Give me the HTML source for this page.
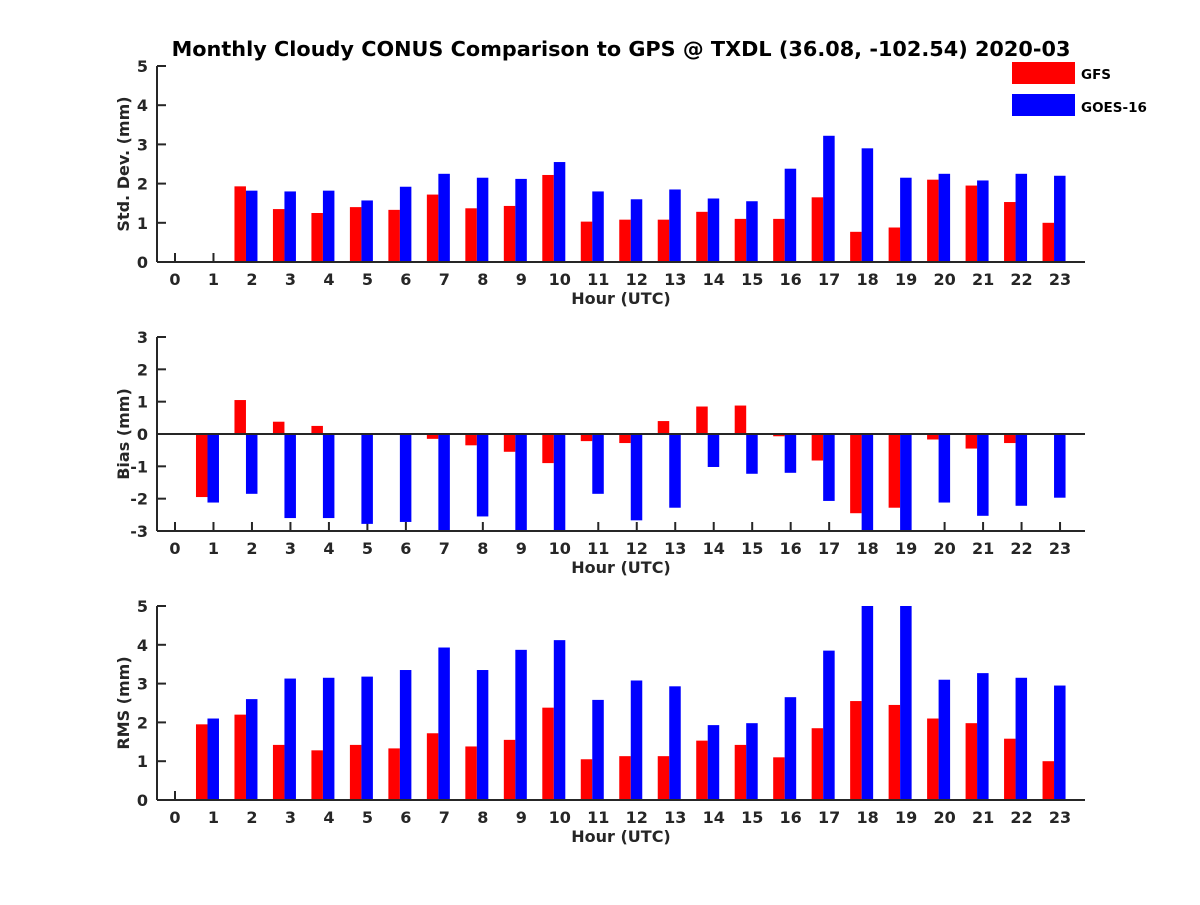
<!DOCTYPE html>
<html><head><meta charset="utf-8"><style>
body{margin:0;background:#fff;}
svg text{font-family:"DejaVu Sans","Liberation Sans",sans-serif;font-weight:bold;fill:#262626;}
</style></head><body>
<svg id="chart" width="1200" height="900" viewBox="0 0 1200 900" xmlns="http://www.w3.org/2000/svg">
<rect width="1200" height="900" fill="#fff"/>
<text x="621" y="56" text-anchor="middle" font-size="20.8" style="fill:#000">Monthly Cloudy CONUS Comparison to GPS @ TXDL (36.08, -102.54) 2020-03</text>
<g>
<rect x="1012" y="62" width="63" height="22" fill="#f00"/>
<text x="1081" y="79" font-size="13.5" style="fill:#000">GFS</text>
<rect x="1012" y="94" width="63" height="22" fill="#00f"/>
<text x="1081" y="112" font-size="13.5" style="fill:#000">GOES-16</text>
</g>
</svg>
<script>
const hours=[0,1,2,3,4,5,6,7,8,9,10,11,12,13,14,15,16,17,18,19,20,21,22,23];
const stdGfs=[null,null,1.93,1.35,1.25,1.4,1.33,1.72,1.37,1.43,2.22,1.03,1.08,1.08,1.28,1.1,1.1,1.65,0.77,0.88,2.1,1.95,1.53,1.0];
const stdGoes=[null,null,1.82,1.8,1.82,1.57,1.92,2.25,2.15,2.12,2.55,1.8,1.6,1.85,1.62,1.55,2.38,3.22,2.9,2.15,2.25,2.08,2.25,2.2];
const biasGfs=[null,-1.95,1.05,0.38,0.25,0.02,0.02,-0.15,-0.35,-0.55,-0.9,-0.22,-0.28,0.4,0.85,0.88,-0.07,-0.82,-2.45,-2.28,-0.17,-0.45,-0.28,-0.03];
const biasGoes=[null,-2.12,-1.85,-2.6,-2.6,-2.78,-2.72,-3.3,-2.55,-3.3,-3.3,-1.85,-2.67,-2.28,-1.02,-1.23,-1.2,-2.07,-3.4,-3.4,-2.12,-2.53,-2.22,-1.97];
const rmsGfs=[null,1.95,2.2,1.42,1.28,1.42,1.33,1.72,1.38,1.55,2.38,1.05,1.13,1.13,1.53,1.42,1.1,1.85,2.55,2.45,2.1,1.98,1.58,1.0];
const rmsGoes=[null,2.1,2.6,3.13,3.15,3.18,3.35,3.93,3.35,3.87,4.12,2.58,3.08,2.93,1.93,1.98,2.65,3.85,5.3,5.2,3.1,3.27,3.15,2.95];
const stdTicks=[0,1,2,3,4,5];
const biasTicks=[-3,-2,-1,0,1,2,3];
const rmsTicks=[0,1,2,3,4,5];

const NS="http://www.w3.org/2000/svg";
const svg=document.getElementById('chart');
function mk(tag,attrs,parent){const e=document.createElementNS(NS,tag);for(const k in attrs)e.setAttribute(k,attrs[k]);(parent||svg).appendChild(e);return e;}
const X0=157,X1=1085;
function xs(h){return 175+h*38.48;}

function panel(name,top,bottom,ymin,ymax,ticks,red,blue,ylabel){
  const g=mk('g',{});
  
  
  const ys=v=>bottom-(v-ymin)/(ymax-ymin)*(bottom-top);
  const base=ys(Math.max(ymin,0));
  const clip=v=>Math.max(ymin,Math.min(ymax,v));
  hours.forEach(h=>{
    mk('line',{x1:xs(h),x2:xs(h),y1:bottom,y2:bottom-9,stroke:'#262626','stroke-width':2},g);
  });
  hours.forEach((h,i)=>{
    const c=xs(h);
    [[red[i],'#f00',-17.5,'gfs'],[blue[i],'#00f',-6,'goes16']].forEach(([v,col,off,s])=>{
      if(v===null)return;
      const y=ys(clip(v));
      const r=mk('rect',{x:c+off,y:Math.min(y,base),width:11.5,height:Math.abs(y-base),fill:col},g);
      
      
    });
  });
  if(ymin<0){const z=mk('line',{x1:X0,x2:X1,y1:ys(0),y2:ys(0),stroke:'#262626','stroke-width':2},g);
    
    }
  const xa=mk('line',{x1:X0,x2:X1,y1:bottom,y2:bottom,stroke:'#262626','stroke-width':2},g);
  
  
  const ya=mk('line',{x1:X0,x2:X0,y1:top,y2:bottom,stroke:'#262626','stroke-width':2},g);
  
  
  hours.forEach(h=>{
    const t=mk('text',{x:xs(h),y:bottom+23,'text-anchor':'middle','font-size':16},g);
    t.textContent=h;
    
    
  });
  ticks.forEach(v=>{
    mk('line',{x1:X0,x2:X0+9,y1:ys(v),y2:ys(v),stroke:'#262626','stroke-width':2},g);
    const t=mk('text',{x:148,y:ys(v)+6,'text-anchor':'end','font-size':16},g);
    t.textContent=v;
    
    
  });
  const xt=mk('text',{x:621,y:bottom+42,'text-anchor':'middle','font-size':16},g);
  xt.textContent='Hour (UTC)';
  
  
  const cy=(top+bottom)/2;
  const yt=mk('text',{x:0,y:0,'text-anchor':'middle','font-size':16,transform:`translate(129,${cy}) rotate(-90)`},g);
  yt.textContent=ylabel;
  
  
}
panel('std',66,262,0,5,stdTicks,stdGfs,stdGoes,'Std. Dev. (mm)');
panel('bias',337,531,-3,3,biasTicks,biasGfs,biasGoes,'Bias (mm)');
panel('rms',606,800,0,5,rmsTicks,rmsGfs,rmsGoes,'RMS (mm)');
</script>
</body></html>
